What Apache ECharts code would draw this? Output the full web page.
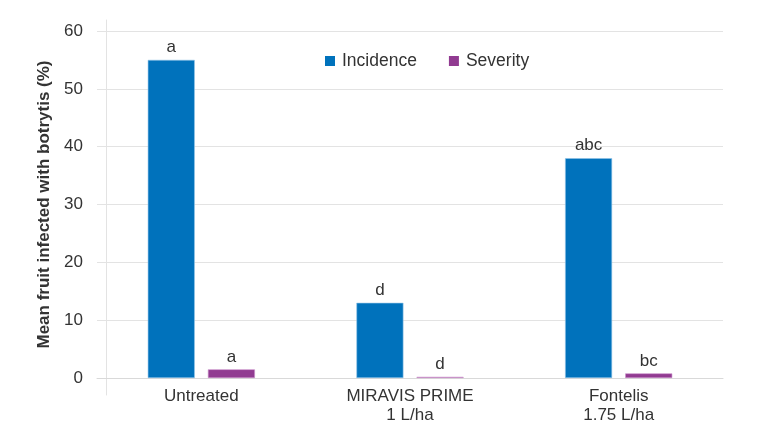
<!DOCTYPE html>
<html>
<head>
<meta charset="utf-8">
<script src="https://cdn.jsdelivr.net/npm/echarts@6/dist/echarts.min.js"></script>
<style>
  html, body { margin: 0; padding: 0; background: #fff; }
  #chart { width: 768px; height: 439px; }
</style>
</head>
<body>
<div id="chart"></div>
<script>
// data
var categories = ['Untreated', 'MIRAVIS PRIME\n1 L/ha', 'Fontelis\n1.75 L/ha']
var incidence = [55, 13, 38]
var severity = [1.5, 0.2, 0.8]
var incidenceLetters = ['a', 'd', 'abc']
var severityLetters = ['a', 'd', 'bc']

var font = '"Liberation Sans", Arial, Helvetica, sans-serif'
var textColor = '#333333'

function letterLabel(letters) {
  return {
    show: true,
    position: 'top',
    distance: 4,
    fontFamily: font,
    fontSize: 17,
    color: textColor,
    formatter: function (p) {
      return letters[p.dataIndex]
    }
  }
}

var chart = echarts.init(document.getElementById('chart'))
chart.setOption({
  animation: false,
  textStyle: { fontFamily: font },
  grid: [
    { left: 97, right: 45, top: 31, bottom: 61 },
    // only carries the long vertical rule that crosses the x axis
    { left: 106, width: 1, top: 20, bottom: 44 }
  ],
  legend: {
    left: 320,
    top: 47,
    itemWidth: 10,
    itemHeight: 10,
    itemGap: 32,
    icon: 'rect',
    itemStyle: { borderWidth: 0 },
    textStyle: { fontFamily: font, fontSize: 17.5, color: textColor, padding: [0, 0, 0, 2] },
    data: ['Incidence', 'Severity']
  },
  xAxis: [
    {
      type: 'category',
      data: categories,
      axisLine: { lineStyle: { color: '#d9d9d9', width: 1 } },
      axisTick: { show: false },
      axisLabel: {
        fontFamily: font,
        fontSize: 17,
        color: textColor,
        margin: 9,
        lineHeight: 19
      }
    },
    {
      type: 'value',
      gridIndex: 1,
      show: false
    }
  ],
  yAxis: [
    {
      type: 'value',
      min: 0,
      max: 60,
      interval: 10,
      name: 'Mean fruit infected with botrytis (%)',
      nameLocation: 'middle',
      nameGap: 38,
      nameTextStyle: { fontFamily: font, fontSize: 17, fontWeight: 'bold', color: textColor },
      axisLine: { show: false },
      axisTick: { show: false },
      axisLabel: { fontFamily: font, fontSize: 17, color: textColor, margin: 14 },
      splitLine: { lineStyle: { color: '#e3e3e3', width: 1 } }
    },
    {
      type: 'value',
      gridIndex: 1,
      axisLine: { show: true, lineStyle: { color: '#e3e3e3', width: 1 } },
      axisTick: { show: false },
      axisLabel: { show: false },
      splitLine: { show: false }
    }
  ],
  series: [
    {
      name: 'Incidence',
      type: 'bar',
      data: incidence,
      barWidth: 47,
      barGap: '28%',
      itemStyle: { color: '#0072bc', borderColor: '#8fc3e8', borderWidth: 0.6 },
      label: letterLabel(incidenceLetters)
    },
    {
      name: 'Severity',
      type: 'bar',
      data: severity,
      barWidth: 47,
      barMinHeight: 1,
      itemStyle: { color: '#913b91', borderColor: '#c98ec9', borderWidth: 0.6 },
      label: letterLabel(severityLetters)
    }
  ]
})
</script>
</body>
</html>
